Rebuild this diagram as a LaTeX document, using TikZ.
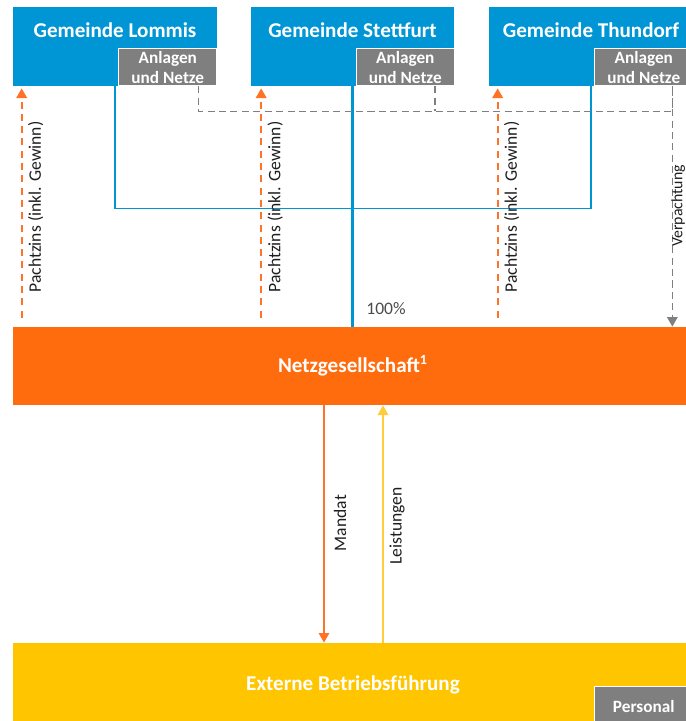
\documentclass[tikz,border=0pt]{standalone}
\usepackage{fontspec}
\setmainfont{Carlito}
\usetikzlibrary{arrows.meta,positioning}

\definecolor{gblau}{RGB}{0,150,214}
\definecolor{norange}{RGB}{255,108,14}
\definecolor{pachtorange}{RGB}{255,115,40}
\definecolor{egelb}{RGB}{255,198,0}
\definecolor{lgelb}{RGB}{255,205,60}
\definecolor{agrau}{RGB}{127,127,127}
\definecolor{txt}{RGB}{30,30,30}

\tikzset{
  gemeinde/.style={fill=gblau, minimum width=4.08cm, minimum height=1.58cm, inner sep=0pt},
  titel/.style={text=white, font=\fontsize{12}{14}\selectfont\bfseries},
  anlage/.style={fill=agrau, draw=white, line width=0.6pt, minimum width=1.96cm, minimum height=0.74cm,
    inner sep=0pt, align=center, text=white, font=\fontsize{9.8}{11.2}\selectfont\bfseries},
  balken/.style={minimum width=13.6cm, inner sep=0pt, text=white, font=\fontsize{12}{14}\selectfont\bfseries},
  pacht/.style={pachtorange, line width=1.1pt, dash pattern=on 4pt off 3pt, -{Triangle[width=6pt,length=5.5pt]}},
  verp/.style={agrau, line width=0.8pt, dash pattern=on 4pt off 2.5pt},
  beteil/.style={gblau, line width=0.7pt},
  lbl/.style={text=txt, font=\fontsize{10}{12}\selectfont, rotate=90}
}

\begin{document}
\begin{tikzpicture}[x=0.02cm, y=-0.02cm]
	\useasboundingbox (0,0) rectangle (686,721);
	\clip (0,0) rectangle (686,721);

	% Gemeinden
	\node[gemeinde] (lommis) at (115,46.5) {};
	\node[titel] at ([yshift=-0.48cm]lommis.north) {Gemeinde Lommis};
	\node[anlage, anchor=south east] (lommis-an) at (lommis.south east) {Anlagen\\und Netze};

	\node[gemeinde] (stettfurt) at (352.5,46.5) {};
	\node[titel] at ([yshift=-0.48cm]stettfurt.north) {Gemeinde Stettfurt};
	\node[anlage, anchor=south east] (stettfurt-an) at (stettfurt.south east) {Anlagen\\und Netze};

	\node[gemeinde] (thundorf) at (591,46.5) {};
	\node[titel] at ([yshift=-0.48cm]thundorf.north) {Gemeinde Thundorf};
	\node[anlage, anchor=south east] (thundorf-an) at (thundorf.south east) {Anlagen\\und Netze};

	% Netzgesellschaft und Betriebsfuehrung
	\node[balken, fill=norange, minimum height=1.56cm] (netz) at (353,366) {Netzgesellschaft\textsuperscript{1}};
	\node[balken, fill=egelb, minimum height=1.68cm] (betrieb) at (353,685) {Externe Betriebsführung};
	\node[anlage, anchor=north east, minimum height=0.8cm] (personal) at ([yshift=-0.86cm]betrieb.north east) {Personal};

	% Beteiligung
	\draw[beteil] (lommis.south) -- ++(0,122) -| (thundorf.south);
	\draw[gblau, line width=1.4pt] (stettfurt.south) -- (stettfurt.south |- netz.north);
	\node[text=txt!80, font=\fontsize{10}{12}\selectfont] (proz) at (386,309) {100\%};

	% Verpachtung
	\coordinate (v1) at ([xshift=-0.42cm]thundorf-an.south east);
	\draw[verp] ([xshift=-0.38cm]lommis-an.south east) -- ++(0,25) -| (v1);
	\draw[verp] ([xshift=-0.4cm]stettfurt-an.south east) -- ++(0,25);
	\draw[verp, -{Triangle[width=6pt,length=5.5pt]}] (v1) -- (v1 |- netz.north);
	\node[lbl, font=\fontsize{9}{11}\selectfont, anchor=south, inner sep=0.3pt] (verp-t) at (686,206) {Verpachtung};

	% Pachtzins
	\foreach \g/\dx in {lommis/0.18, stettfurt/0.22, thundorf/0.18} {
		\coordinate (\g-p) at ([xshift=\dx cm, yshift=-0.04cm]\g.south west);
		\draw[pacht, shorten <=0.18cm] (\g-p |- netz.north) -- (\g-p);
		\node[lbl] at ([xshift=0.28cm]\g-p |- 0,207) {Pachtzins (inkl. Gewinn)};
	}

	% Mandat / Leistungen
	\draw[pachtorange, line width=0.9pt, -{Triangle[width=6pt,length=5.5pt]}] ([xshift=-0.58cm]netz.south) -- ([xshift=-0.58cm]netz.south |- betrieb.north);
	\node[lbl] (mandat) at (340,523) {Mandat};
	\draw[lgelb, line width=0.9pt, -{Triangle[width=6pt,length=5.5pt]}] ([xshift=0.6cm]netz.south |- betrieb.north) -- ([xshift=0.6cm]netz.south);
	\node[lbl] (leist) at (397,526) {Leistungen};

\end{tikzpicture}
\end{document}
